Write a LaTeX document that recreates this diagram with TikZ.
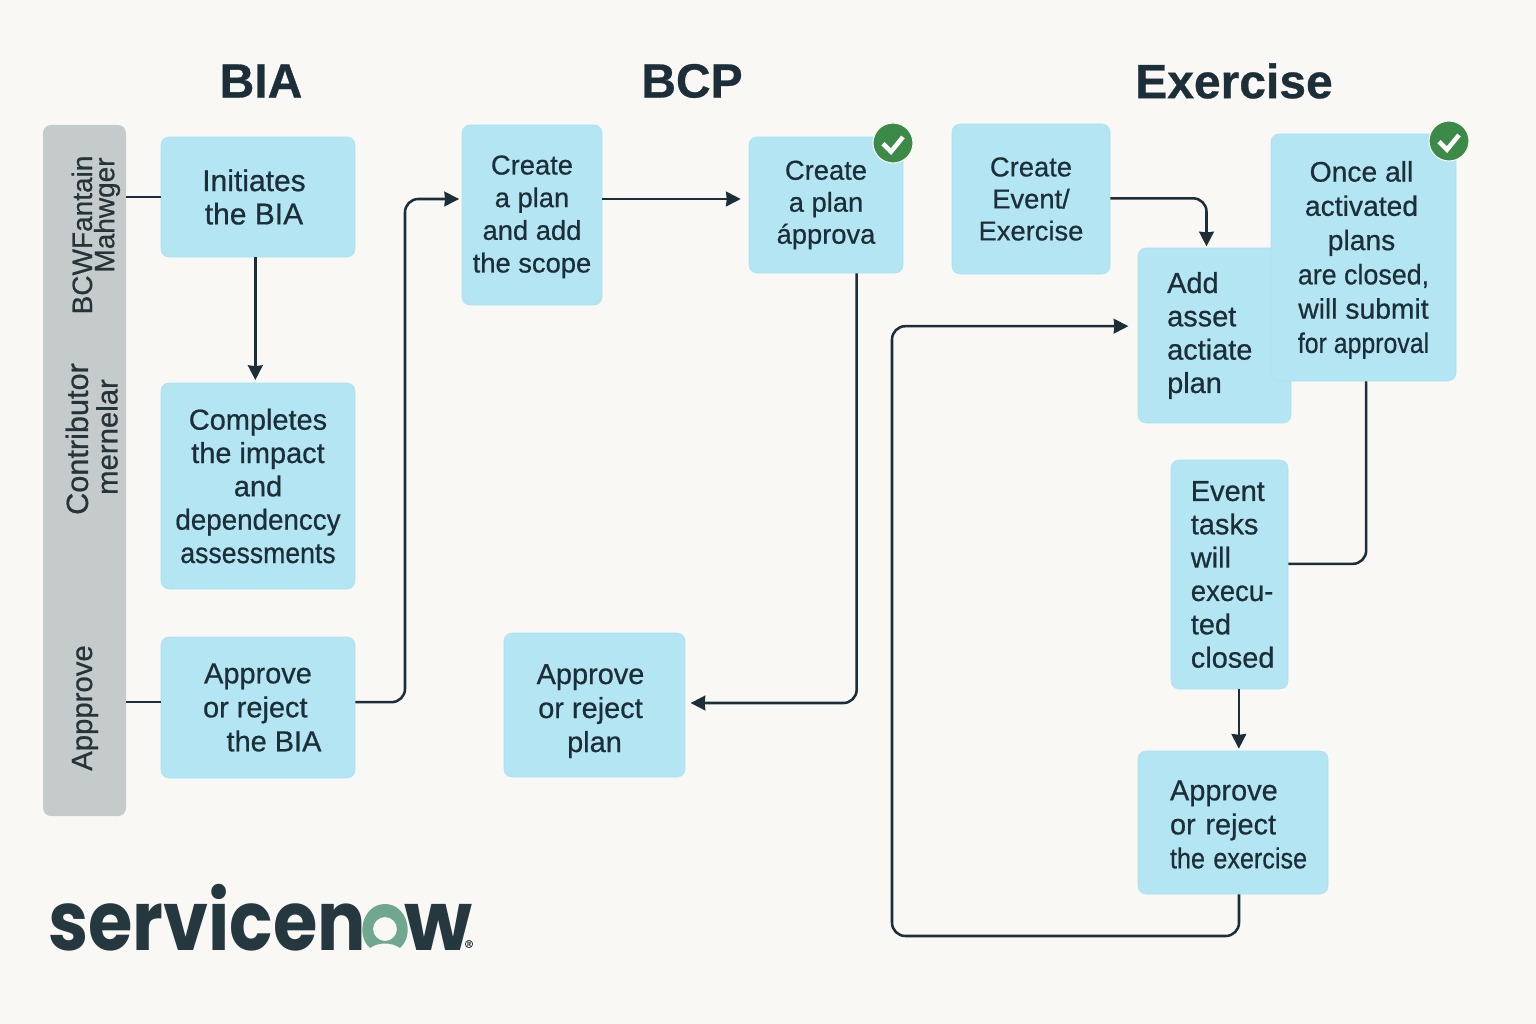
\documentclass[tikz,border=0pt]{standalone}
\usepackage{fontspec}
\setmainfont{Liberation Sans}[FakeBold=0.6]
\newfontfamily\headfont{Liberation Sans}[BoldFeatures={FakeBold=0.6}]
\newfontfamily\logofont{Poppins}
\usetikzlibrary{arrows.meta,positioning,calc}
\tikzset{
  >=Stealth,
  boxsize/.style 2 args={minimum width=#1*0.75pt, minimum height=#2*0.75pt},
}
% pushes the lines of a box down by #1
\newcommand{\pushdown}[1]{\rule{0pt}{\dimexpr 16pt+2\dimexpr #1\relax\relax}}
\newcommand{\squeezed}[2]{\scalebox{#1}[1]{#2}}
\newcommand{\trail}[1]{\hspace{#1}\mbox{}}

\begin{document}
\begin{tikzpicture}[
  x=0.75pt, y=-0.75pt,
  every node/.style={align=center},
  box/.style={rectangle, rounded corners=6pt, draw=boxedge, fill=boxblue, inner sep=0pt,
    text=inkdark, font=\fontsize{21.7}{25}\selectfont},
  boxsmall/.style={box, font=\fontsize{20.5}{24.5}\selectfont},
  boxleft/.style={box, align=left},
  header/.style={font=\fontsize{36}{40}\headfont\bfseries, text=inkdark},
  lanetext/.style={rotate=90, text=lanedark, font=\fontsize{21}{24}\selectfont},
  link/.style={draw=inkdark, line width=1.9pt, rounded corners=10pt},
  arrow/.style={link, -{Stealth[length=11pt, width=11pt, inset=0.5pt]}},
  badge/.style={circle, fill=checkgreen, draw=bgpaper, line width=0.8pt, minimum size=30pt, inner sep=0pt},
  logo/.style={font=\fontsize{62}{62}\logofont\bfseries, text=logodark, inner sep=0pt, anchor=base west}
]

% --- Color palette ---
\definecolor{bgpaper}{RGB}{250,248,245}
\definecolor{boxblue}{RGB}{180,229,243}
\definecolor{boxedge}{RGB}{170,226,241}
\definecolor{inkdark}{RGB}{28,46,56}
\definecolor{lanegray}{RGB}{197,202,203}
\definecolor{lanedark}{RGB}{38,52,58}
\definecolor{checkgreen}{RGB}{60,138,71}
\definecolor{logodark}{RGB}{37,56,63}
\definecolor{logogreen}{RGB}{111,167,143}

\fill[bgpaper] (0,0) rectangle (1536,1024);
\useasboundingbox (0,0) rectangle (1536,1024);

% --- Column headers ---
\node[header] (biahead) at (261,81) {BIA};
\node[header] (bcphead) at (692,81) {BCP};
\node[header] (exhead) at (1234,81) {Exercise};

% --- Role lane ---
\node[rectangle, rounded corners=6pt, fill=lanegray, boxsize={83}{691}, inner sep=0pt] (lane) at (84.5,470.5) {};
\node[lanetext] (rolea) at (82,235) {BCWFantain};
\node[lanetext] (roleb) at (107,215) {Mahwger};
\node[lanetext, font=\fontsize{23}{24}\selectfont] (rolec) at (77,439) {Contributor};
\node[lanetext, font=\fontsize{22}{24}\selectfont] (roled) at (107,437) {mernelar};
\node[lanetext, font=\fontsize{22}{24}\selectfont] (rolee) at (85,708) {Appprove};

% --- BIA column ---
\node[box, boxsize={194}{120}, font=\fontsize{22.5}{25}\selectfont] (initiates) at (258,197) {Initiates\trail{6pt}\\the BIA\trail{6pt}};
\node[box, boxsize={194}{206}] (completes) at (258,486) {Completes\\the impact\\and\\\squeezed{0.96}{dependenccy}\\\squeezed{0.92}{assessments}};
\node[box, boxsize={194}{141}, font=\fontsize{21.7}{25.5}\selectfont] (approvebia) at (258,707.5) {Approve\\or reject\trail{4pt}\\\hspace{24pt}the BIA};

% --- BCP column ---
\node[boxsmall, boxsize={140}{180}] (createscope) at (532,215) {\pushdown{0.5pt}Create\\a plan\\and add\\the scope};
\node[boxsmall, boxsize={154}{136}, font=\fontsize{20.5}{24}\selectfont] (createplan) at (826,205) {Create\\a plan\\ápprova};
\node[box, boxsize={181}{144}, font=\fontsize{21.7}{25.5}\selectfont] (approveplan) at (594.5,705) {\pushdown{4pt}Approve\trail{6pt}\\or reject\trail{6pt}\\plan};
\node[badge] (checka) at (893,143) {};

% --- Exercise column ---
\node[boxsmall, boxsize={158}{150}, font=\fontsize{20.5}{24}\selectfont] (createevent) at (1031,199) {Create\\Event/\\Exercise};
\node[boxleft, boxsize={153}{175}, text width=71pt] (addasset) at (1214.5,335.5) {Add\\asset\\actiate\\plan};
\node[boxleft, boxsize={117}{229}, text width=58pt] (eventtasks) at (1229.5,574.5) {Event\\tasks\\will\\\mbox{\squeezed{0.95}{execu-}}\\ted\\closed};
\node[boxleft, boxsize={190}{143}, text width=94.5pt, font=\fontsize{21.7}{25.5}\selectfont] (approveex) at (1233,822.5) {\pushdown{1pt}Approve\\or~reject\\\mbox{\squeezed{0.87}{the exercise}}};
\node[box, boxsize={185}{247}, font=\fontsize{21.2}{25.7}\selectfont] (onceall) at (1363.5,257.5) {\pushdown{1.5pt}Once all\trail{3pt}\\activated\trail{3pt}\\plans\trail{3pt}\\\squeezed{0.95}{are closed,}\\will submit\\\squeezed{0.88}{for approval}};
\node[badge] (checkb) at (1449,141) {};

% --- Check marks ---
\foreach \badgename in {checka,checkb}
  \draw[white, line width=3.4pt] ([shift={(-7.5pt,-0.5pt)}]\badgename.center) -- ++(6pt,-6pt) -- ++(9pt,11pt);

% --- Connectors ---
\draw[link] (lane.east |- initiates.west) -- (initiates.west);
\draw[link] ([yshift=4pt]lane.east |- approvebia.west) -- ([yshift=4pt]approvebia.west);
\draw[arrow] ([xshift=-2pt]initiates.south) -- ([xshift=-2pt,yshift=2pt]initiates.south |- completes.north);
\draw[arrow] ([yshift=4pt]approvebia.east) -| (405,199) -- ([xshift=-2pt,yshift=12pt]createscope.west);
\draw[arrow] ([yshift=12pt]createscope.east) -- ([xshift=-6pt,yshift=12pt]createscope.east -| createplan.west);
\draw[arrow] ([xshift=23pt]createplan.south) |- ([yshift=1.5pt,xshift=4pt]approveplan.east);
\draw[arrow] ([yshift=0.5pt]createevent.east) -| ([xshift=-6pt,yshift=1pt]addasset.north);
\draw[link] ([xshift=2pt]onceall.south) |- ([yshift=8pt]eventtasks.east);
\draw[arrow] ([xshift=7pt]eventtasks.south) -- ([xshift=7pt,yshift=1.5pt]eventtasks.south |- approveex.north);
\draw[arrow] ([xshift=4.5pt]approveex.south) |- (892,936) |- ([xshift=-7pt,yshift=7pt]addasset.west);

% --- Logo ---
\node[logo] (logoa) at (48,950) {\squeezed{0.87}{servicen}};
\node[logo] (logob) at (404,950) {\squeezed{0.95}{w}};
\fill[logogreen, even odd rule] (370,948) .. controls (355,935) and (363,904) .. (385,904)
  .. controls (407,904) and (415,935) .. (400,948) .. controls (392,942) and (378,942) .. (370,948)
  (397,929) arc[start angle=0, end angle=360, radius=12];
\node[font=\fontsize{8}{8}\selectfont, text=logodark, inner sep=0pt] (logoreg) at (469,944) {®};

\end{tikzpicture}
\end{document}
